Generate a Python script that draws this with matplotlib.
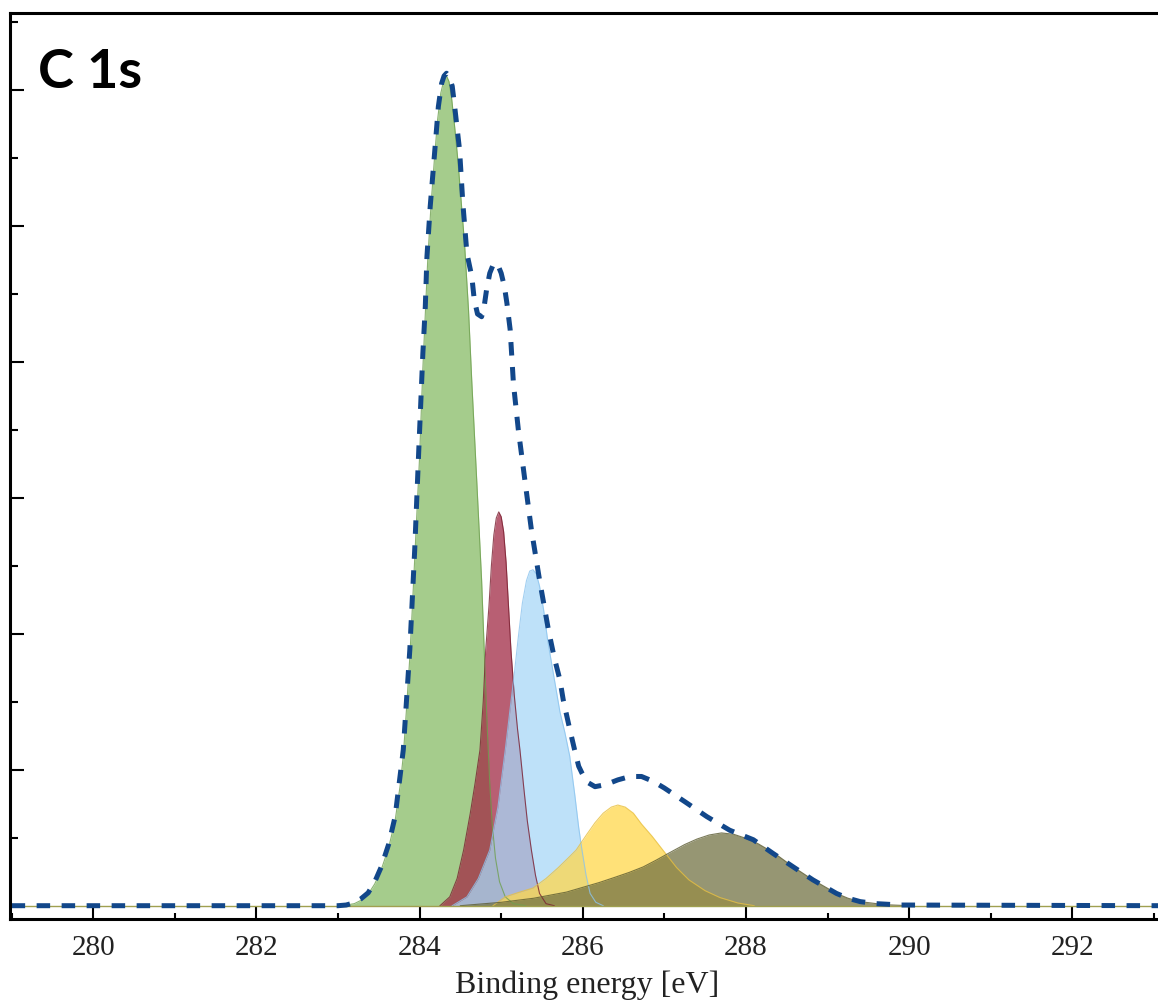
import numpy as np
import matplotlib
matplotlib.use("Agg")
import matplotlib.pyplot as plt
from matplotlib.ticker import MultipleLocator

# measured envelope (binding energy, intensity in arbitrary units)
env_e = [279.0, 283.0, 283.1, 283.19, 283.28, 283.37, 283.45, 283.53, 283.62, 283.70,
         283.80, 283.88, 283.94, 283.99, 284.04, 284.07, 284.09, 284.13, 284.18, 284.23,
         284.27, 284.30, 284.33, 284.36, 284.40, 284.43, 284.49, 284.53, 284.58, 284.64,
         284.67, 284.71, 284.76, 284.79, 284.82, 284.86, 284.91, 284.96, 285.00, 285.04,
         285.07, 285.11, 285.15, 285.21, 285.29, 285.37, 285.47, 285.58, 285.65, 285.72,
         285.76, 285.83, 285.90, 285.95, 285.99, 286.05, 286.15, 286.28, 286.43, 286.58,
         286.72, 286.86, 287.00, 287.25, 287.52, 287.80, 288.09, 288.33, 288.58, 288.82,
         289.11, 289.25, 289.40, 289.60, 289.90, 293.1]
env_i = [0.0, 0.0, 0.01, 0.04, 0.10, 0.19, 0.35, 0.57, 0.90, 1.31,
         2.29, 3.76, 5.23, 6.70, 8.12, 8.81, 9.54, 10.28, 11.01, 11.75,
         12.09, 12.20, 12.24, 12.20, 12.05, 11.75, 11.11, 10.33, 9.59, 9.25,
         8.91, 8.70, 8.66, 8.80, 9.05, 9.30, 9.45, 9.42, 9.30, 9.10,
         8.86, 8.47, 7.68, 7.00, 6.26, 5.53, 4.79, 4.05, 3.65, 3.32,
         3.03, 2.65, 2.29, 2.05, 1.95, 1.82, 1.75, 1.78, 1.85, 1.90,
         1.90, 1.83, 1.73, 1.53, 1.31, 1.11, 0.97, 0.77, 0.57, 0.38,
         0.18, 0.11, 0.06, 0.03, 0.01, 0.0]

# fitted components
green_e = [283.0, 283.1, 283.2, 283.3, 283.37, 283.45, 283.53, 283.62, 283.70, 283.76,
           283.80, 283.84, 283.88, 283.91, 283.94, 283.97, 284.00, 284.04, 284.07, 284.10,
           284.14, 284.18, 284.22, 284.26, 284.30, 284.33, 284.36, 284.39, 284.43, 284.47,
           284.51, 284.55, 284.60, 284.64, 284.70, 284.76, 284.80, 284.83, 284.86, 284.89,
           284.93, 284.98, 285.05, 285.15, 285.30]
green_i = [0.0, 0.01, 0.03, 0.09, 0.17, 0.32, 0.53, 0.85, 1.25, 1.75,
           2.20, 2.90, 3.65, 4.35, 5.10, 5.85, 6.60, 7.90, 8.70, 9.50,
           10.30, 10.95, 11.55, 11.95, 12.15, 12.20, 12.12, 11.90, 11.45, 10.95,
           10.35, 9.75, 8.75, 7.70, 6.26, 4.79, 3.50, 2.60, 1.80, 1.20,
           0.70, 0.35, 0.13, 0.03, 0.0]

red_e = [284.25, 284.37, 284.46, 284.54, 284.62, 284.68, 284.74, 284.78, 284.81, 284.85,
         284.88, 284.91, 284.94, 284.97, 285.00, 285.03, 285.06, 285.09, 285.12, 285.16,
         285.20, 285.23, 285.28, 285.32, 285.37, 285.42, 285.47, 285.55, 285.65]
red_i = [0.0, 0.13, 0.40, 0.82, 1.35, 1.80, 2.29, 3.00, 3.76, 4.40,
         5.00, 5.45, 5.70, 5.79, 5.72, 5.50, 5.05, 4.40, 3.75, 3.10,
         2.60, 2.29, 1.70, 1.25, 0.82, 0.45, 0.18, 0.03, 0.0]

blue_e = [284.40, 284.58, 284.72, 284.86, 284.96, 285.05, 285.11, 285.16, 285.21, 285.26,
          285.31, 285.35, 285.39, 285.43, 285.47, 285.52, 285.57, 285.62, 285.67, 285.72,
          285.78, 285.84, 285.90, 285.95, 285.99, 286.04, 286.09, 286.16, 286.25]
blue_i = [0.0, 0.13, 0.40, 0.82, 1.45, 2.29, 2.90, 3.40, 3.95, 4.45,
          4.78, 4.92, 4.94, 4.88, 4.70, 4.35, 3.90, 3.55, 3.20, 2.85,
          2.55, 2.20, 1.65, 1.15, 0.82, 0.45, 0.18, 0.05, 0.0]

yellow_e = [284.9, 285.05, 285.2, 285.39, 285.55, 285.7, 285.82, 285.92, 286.05, 286.15,
            286.25, 286.35, 286.43, 286.52, 286.62, 286.72, 286.85, 286.98, 287.15, 287.3,
            287.5, 287.68, 287.9, 288.1]
yellow_i = [0.0, 0.13, 0.19, 0.26, 0.40, 0.56, 0.70, 0.82, 1.05, 1.22,
            1.36, 1.45, 1.48, 1.45, 1.36, 1.20, 1.02, 0.82, 0.56, 0.38,
            0.22, 0.12, 0.04, 0.0]

olive_e = [284.5, 285.0, 285.4, 285.8, 286.0, 286.2, 286.4, 286.57, 286.74, 286.9,
           287.05, 287.25, 287.4, 287.55, 287.70, 287.85, 288.0, 288.15, 288.35, 288.58,
           288.82, 289.11, 289.25, 289.40, 289.7, 290.0]
olive_i = [0.0, 0.05, 0.11, 0.20, 0.27, 0.34, 0.42, 0.49, 0.57, 0.67,
           0.77, 0.90, 0.98, 1.04, 1.07, 1.05, 0.99, 0.91, 0.77, 0.57,
           0.38, 0.18, 0.11, 0.06, 0.015, 0.0]

components = [
    (green_e, green_i, "#87bc66", "#6fa050"),
    (red_e, red_i, "#a12a44", "#7a1f30"),
    (blue_e, blue_i, "#a8d7f8", "#8cc4ee"),
    (yellow_e, yellow_i, "#ffd74b", "#e8c040"),
    (olive_e, olive_i, "#737344", "#5a5a30"),
]

fig = plt.figure(figsize=(11.58, 10.01), dpi=100)
ax = fig.add_axes([10 / 1158, 1 - 919.3 / 1001, 1 - 10 / 1158, (919.3 - 12.7) / 1001])

for e, i, fc, ec in components:
    ax.fill_between(e, i, 0, color=fc, alpha=0.75, linewidth=0)
    ax.plot(e, i, color=ec, lw=0.8, alpha=0.8)

ax.axhline(0, color="#a0a050", lw=1.0)
ax.plot(env_e, env_i, color="#12478a", lw=3.6, dashes=(2.7, 2.3))

ax.set_xlim(278.98, 293.05)
ax.set_ylim(-0.2, 13.13)

ax.xaxis.set_major_locator(MultipleLocator(2))
ax.xaxis.set_minor_locator(MultipleLocator(1))
ax.yaxis.set_major_locator(MultipleLocator(2))
ax.yaxis.set_minor_locator(MultipleLocator(1))
ax.tick_params(axis="x", which="major", direction="in", length=8.6, width=1.5, pad=11.5,
               labelsize=21, labelcolor="#222222")
ax.tick_params(axis="x", which="minor", direction="in", length=4.3, width=1.5)
ax.tick_params(axis="y", which="major", direction="in", length=10, width=1.5, labelleft=False)
ax.tick_params(axis="y", which="minor", direction="in", length=5.8, width=1.5)
for lab in ax.get_xticklabels():
    lab.set_fontfamily("Liberation Serif")

for s in ["left", "bottom", "top"]:
    ax.spines[s].set_linewidth(2.2)
ax.spines["right"].set_visible(False)

ax.set_xlabel("Binding energy [eV]", fontfamily="Liberation Serif", fontsize=23,
              color="#222222")
ax.xaxis.label.set_verticalalignment("center")
ax.xaxis.set_label_coords((587 - 10) / 1148, -(985 - 919.3) / 906.6)

fig.text(38 / 1158, 1 - 88 / 1001, "C 1s", fontfamily="Lato", fontweight="bold",
         fontsize=39, va="baseline", ha="left")

fig.savefig("out.png", dpi=100)
